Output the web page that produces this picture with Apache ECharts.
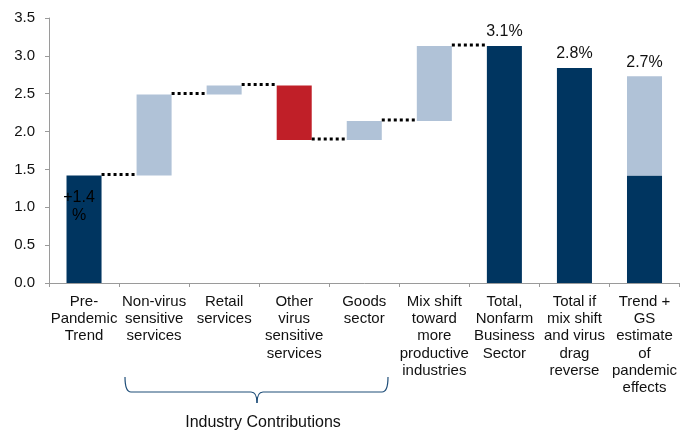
<!DOCTYPE html>
<html>
<head>
<meta charset="utf-8">
<script src="https://cdn.jsdelivr.net/npm/echarts@6/dist/echarts.min.js"></script>
<style>
  html, body { margin: 0; padding: 0; background: #fff; }
  #chart { width: 680px; height: 432px; }
</style>
</head>
<body>
<div id="chart"></div>
<script>
// Productivity growth bridge: trend, industry contributions and totals (% per year)
const categories = [
  'Pre-\nPandemic\nTrend',
  'Non-virus\nsensitive\nservices',
  'Retail\nservices',
  'Other\nvirus\nsensitive\nservices',
  'Goods\nsector',
  'Mix shift\ntoward\nmore\nproductive\nindustries',
  'Total,\nNonfarm\nBusiness\nSector',
  'Total if\nmix shift\nand virus\ndrag\nreverse',
  'Trend +\nGS\nestimate\nof\npandemic\neffects'
];
const preTrend = 1.42;
const contributions = [1.07, 0.12, -0.72, 0.25, 0.99];
const totalIfReverse = 2.84;
const pandemicEffects = 1.31;
const yTicks = { min: 0, max: 3.5, interval: 0.5 };

const NAVY = '#003560';
const LIGHT = '#B0C2D7';
const RED = '#C01F28';
const BRACE = '#1F4E79';

// Running levels after each bridge step
const levels = [preTrend];
contributions.forEach(c => levels.push(+(levels[levels.length - 1] + c).toFixed(2)));
const total = levels[levels.length - 1];

const n = categories.length;
const base = new Array(n).fill('-');
const navy = new Array(n).fill('-');
const light = new Array(n).fill('-');
const red = new Array(n).fill('-');

navy[0] = preTrend;
contributions.forEach((c, i) => {
  const k = i + 1;
  const prev = levels[i];
  base[k] = c >= 0 ? prev : +(prev + c).toFixed(2);
  if (c >= 0) light[k] = c; else red[k] = -c;
});
navy[6] = total;
navy[7] = totalIfReverse;
navy[8] = preTrend;
light[8] = pandemicEffects;

// Labels over the total bars
const topLabels = { 6: total, 7: totalIfReverse, 8: +(preTrend + pandemicEffects).toFixed(2) };

// Dotted connectors between consecutive bridge bars
const connectors = levels.map((v, i) => [i, v]);

const chart = echarts.init(document.getElementById('chart'), null, { renderer: 'canvas' });
const font = 'Liberation Sans, Arial, sans-serif';

function topLabel(text) {
  return {
    show: true, position: 'top', distance: 6, formatter: text,
    color: '#111', fontSize: 16, fontFamily: font
  };
}

const braceStyle = { fill: 'none', stroke: BRACE, lineWidth: 1.2 };

chart.setOption({
  animation: false,
  textStyle: { fontFamily: font },
  grid: { left: 49, top: 18, width: 631, height: 265, containLabel: false },
  xAxis: {
    type: 'category',
    data: categories,
    axisLine: { lineStyle: { color: '#9a9a9a', width: 1 } },
    axisTick: { show: true, length: 4, lineStyle: { color: '#9a9a9a' } },
    axisLabel: {
      interval: 0, margin: 10, color: '#111', fontSize: 15,
      lineHeight: 17.3, fontFamily: font, align: 'center'
    },
    splitLine: { show: false }
  },
  yAxis: {
    type: 'value',
    min: yTicks.min, max: yTicks.max, interval: yTicks.interval,
    axisLine: { show: true, lineStyle: { color: '#9a9a9a', width: 1 } },
    axisTick: { show: true, length: 4, lineStyle: { color: '#9a9a9a' } },
    axisLabel: {
      margin: 14, color: '#111', fontSize: 15, fontFamily: font,
      formatter: v => v.toFixed(1)
    },
    splitLine: { show: false }
  },
  series: [
    {
      type: 'bar', stack: 'w', barWidth: '50%', silent: true,
      itemStyle: { color: 'rgba(0,0,0,0)' }, data: base
    },
    {
      type: 'bar', stack: 'w', barWidth: '50%',
      itemStyle: { color: NAVY },
      data: navy.map((v, i) => {
        if (i === 0) {
          return {
            value: v,
            label: {
              show: true, position: 'insideTop', distance: 13, offset: [-5, 0],
              formatter: '+' + v.toFixed(1) + '\n%', color: '#000',
              fontSize: 16, lineHeight: 18, fontFamily: font
            }
          };
        }
        if (i === 6 || i === 7) {
          return { value: v, label: topLabel(topLabels[i].toFixed(1) + '%') };
        }
        return v;
      })
    },
    {
      type: 'bar', stack: 'w', barWidth: '50%',
      itemStyle: { color: LIGHT },
      data: light.map((v, i) => {
        if (i === 8) {
          return { value: v, label: topLabel(topLabels[i].toFixed(1) + '%') };
        }
        return v;
      })
    },
    {
      type: 'bar', stack: 'w', barWidth: '50%',
      itemStyle: { color: RED }, data: red
    },
    {
      type: 'custom',
      data: connectors,
      encode: { x: 0, y: 1 },
      clip: false,
      z: 5,
      renderItem: (params, api) => {
        const i = api.value(0);
        const v = api.value(1);
        const p0 = api.coord([i, v]);
        const p1 = api.coord([i + 1, v]);
        const bw = api.size([1, 0])[0] * 0.5;
        return {
          type: 'line',
          shape: { x1: p0[0] + bw / 2, y1: p0[1] - 1, x2: p1[0] - bw / 2, y2: p1[1] - 1 },
          style: { stroke: '#000', lineWidth: 3, lineDash: [3, 3] }
        };
      }
    }
  ],
  graphic: [
    // bracket under the industry categories
    { type: 'bezierCurve', shape: { x1: 125, y1: 377, cpx1: 125, cpy1: 392, x2: 131, y2: 392 }, style: braceStyle },
    { type: 'line', shape: { x1: 131, y1: 392, x2: 251, y2: 392 }, style: braceStyle },
    { type: 'bezierCurve', shape: { x1: 251, y1: 392, cpx1: 257, cpy1: 392, x2: 257, y2: 403 }, style: braceStyle },
    { type: 'bezierCurve', shape: { x1: 257, y1: 403, cpx1: 257, cpy1: 392, x2: 263, y2: 392 }, style: braceStyle },
    { type: 'line', shape: { x1: 263, y1: 392, x2: 382, y2: 392 }, style: braceStyle },
    { type: 'bezierCurve', shape: { x1: 382, y1: 392, cpx1: 388, cpy1: 392, x2: 388, y2: 377 }, style: braceStyle },
    {
      type: 'text',
      x: 263, y: 423,
      style: {
        text: 'Industry Contributions', fill: '#111', fontSize: 16,
        fontFamily: font, align: 'center', verticalAlign: 'middle'
      }
    }
  ]
});
</script>
</body>
</html>
